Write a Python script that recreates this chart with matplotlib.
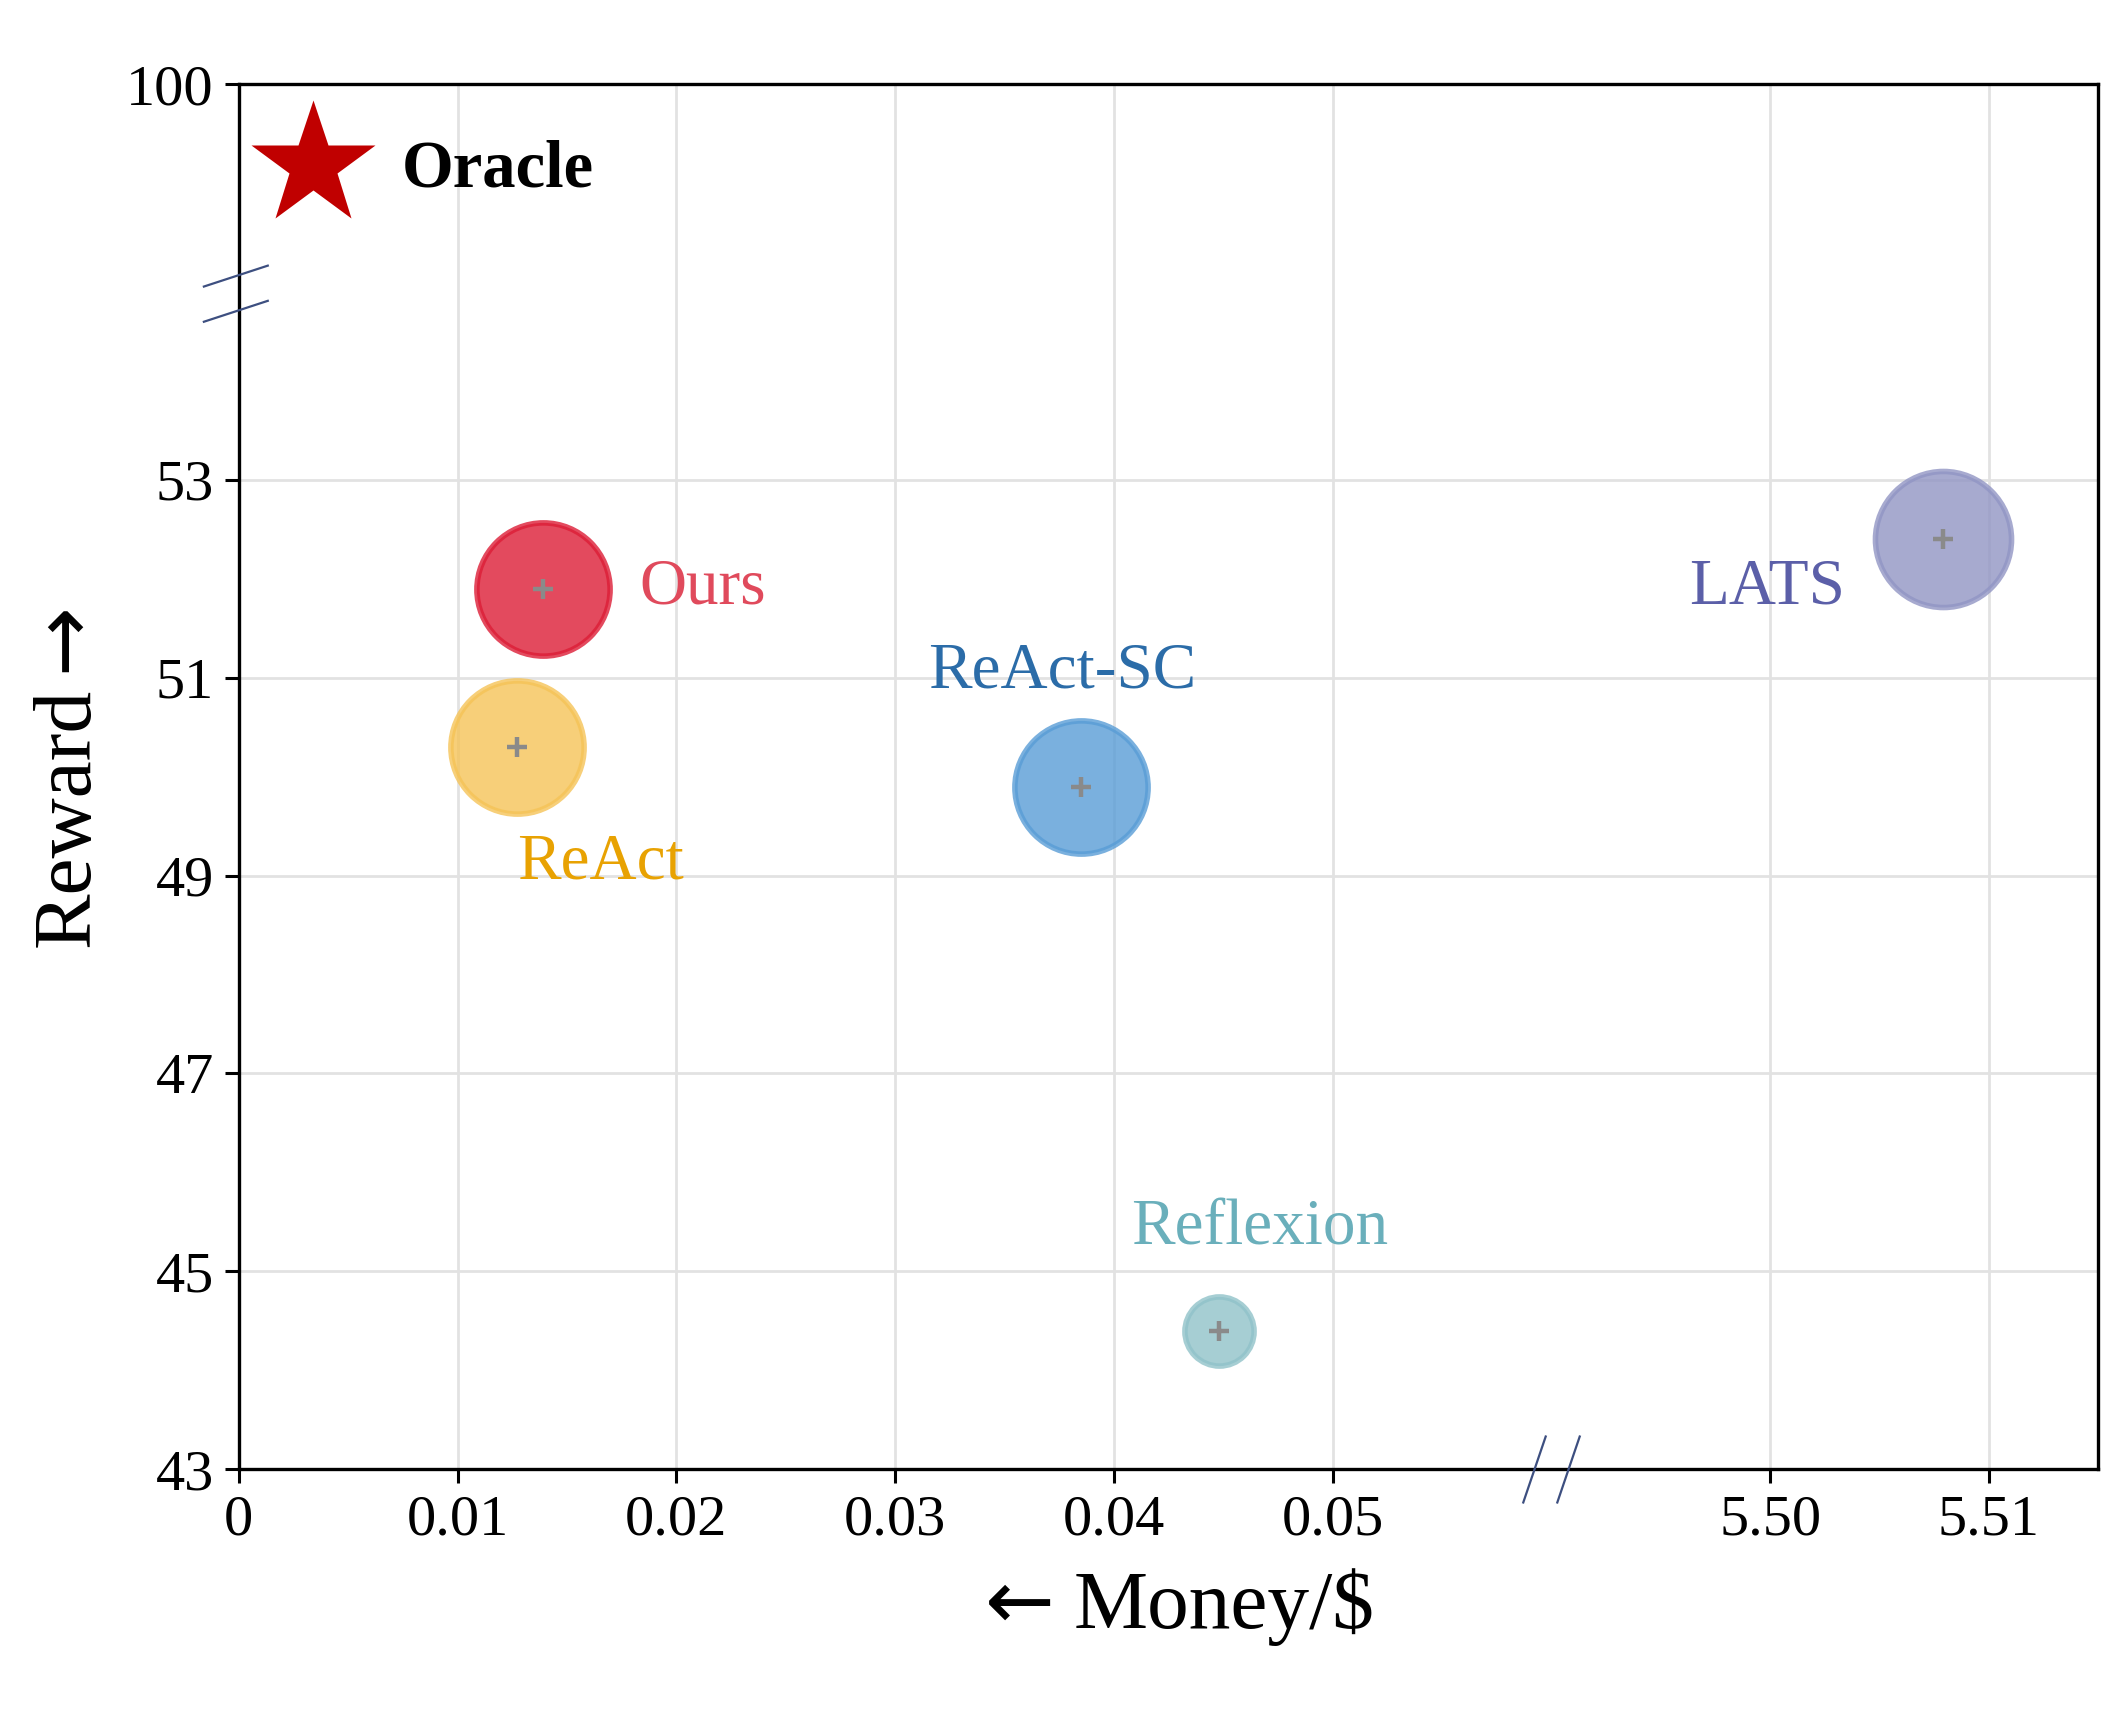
import numpy as np
import matplotlib
matplotlib.use("Agg")
import matplotlib.pyplot as plt
from matplotlib.path import Path

plt.rcParams['font.family'] = ['Liberation Serif', 'DejaVu Serif']

# data
methods = ['Ours', 'ReAct', 'ReAct-SC', 'Reflexion', 'LATS']
money = [0.0139, 0.0127, 0.0385, 0.0448, 5.5079]
reward = [51.9, 50.3, 49.9, 44.4, 52.4]
sizes = [2300, 2300, 2300, 620, 2400]
fill_colors = ['#dc1d36', '#f5c357', '#599dd6', '#90c2c9', '#9195c4']
text_colors = ['#e04a5c', '#e8a202', '#2b6ca8', '#6aafbb', '#5b5fa8']
# label anchor (left, baseline) in data units
label_x = [0.0183, 0.0127, 0.0315, 0.0408, 5.4963]
label_y = [51.75, 48.97, 50.90, 45.27, 51.75]

oracle_money = 0.0034
oracle_reward = 99.18

xticks = [0, 0.01, 0.02, 0.03, 0.04, 0.05, 5.50, 5.51]
xticklabels = ['0', '0.01', '0.02', '0.03', '0.04', '0.05', '5.50', '5.51']
yticks = [43, 45, 47, 49, 51, 53, 100]

# broken axes: squeeze the empty gaps away
x_break, y_break = 0.06, 54.9
XP = [-1, 0.06, 5.49, 7.0]
XU = [-1, 0.06, 0.060001, 1.570001]
YP = [0, 54.9, 97.9, 200]
YU = [0, 54.9, 54.9001, 157.0001]


def fwd_x(x):
    return np.interp(x, XP, XU)


def inv_x(u):
    return np.interp(u, XU, XP)


def fwd_y(y):
    return np.interp(y, YP, YU)


def inv_y(u):
    return np.interp(u, YU, YP)


fig = plt.figure(figsize=(10.64, 8.56), dpi=200)
ax = fig.add_axes([0.1122, 0.1418, 0.8738, 0.8091])
ax.set_xscale('function', functions=(fwd_x, inv_x))
ax.set_yscale('function', functions=(fwd_y, inv_y))
ax.set_xlim(0, 5.515)
ax.set_ylim(43, 100)

ax.set_axisbelow(True)
ax.grid(True, color='#e2e2e2', linewidth=1.0)

for i in range(len(methods)):
    ax.scatter(money[i], reward[i], s=sizes[i], color=fill_colors[i],
               alpha=0.8, linewidths=2, zorder=3)
    ax.scatter(money[i], reward[i], s=50, marker='+', color='#8a8a8a',
               linewidths=1.6, zorder=4)
    ax.text(label_x[i], label_y[i], methods[i], color=text_colors[i],
            fontsize=23.5, ha='left', va='baseline', zorder=5)

ax.plot([oracle_money], [oracle_reward], marker='*', ms=47, color='#c00000',
        mec='none', ls='none', zorder=5)
ax.text(0.00745, 98.96, 'Oracle', fontsize=24, fontweight='bold',
        ha='left', va='baseline', zorder=5)

# break marks
ybreak_mark = Path([(-1, -0.807), (0.8, -0.218), (-1, 0.153), (0.8, 0.742)],
                   [Path.MOVETO, Path.LINETO, Path.MOVETO, Path.LINETO])
xbreak_mark = Path([(-0.84, -1), (-0.16, 1), (0.16, -1), (0.84, 1)],
                   [Path.MOVETO, Path.LINETO, Path.MOVETO, Path.LINETO])
ax.plot([0], [y_break], marker=ybreak_mark, ms=26.4, mew=0.8, mfc='none',
        color='#3d4f80', ls='none', clip_on=False, zorder=6)
ax.plot([x_break], [43], marker=xbreak_mark, ms=24.5, mew=0.8, mfc='none',
        color='#3d4f80', ls='none', clip_on=False, zorder=6)

ax.set_xticks(xticks)
ax.set_xticklabels(xticklabels)
ax.set_yticks(yticks)
ax.set_yticklabels([str(t) for t in yticks])
ax.minorticks_off()
ax.tick_params(axis='both', labelsize=21, length=5, width=1.1, pad=4)
for sp in ax.spines.values():
    sp.set_linewidth(1.2)

# axis labels, arrows taken from DejaVu Sans for a full-size glyph
fig.text(0.5045, 0.0488, 'Money/\\$', fontsize=30, ha='left', va='baseline')
fig.text(0.4955, 0.0488, '\u2190', fontsize=30, family='DejaVu Sans',
         ha='right', va='baseline')
fig.text(0.0415, 0.4467, 'Reward', fontsize=30, rotation=90,
         rotation_mode='anchor', ha='left', va='baseline')
fig.text(0.0415, 0.6076, '\u2192', fontsize=30, family='DejaVu Sans',
         rotation=90, rotation_mode='anchor', ha='left', va='baseline')

fig.savefig('out.png', dpi=200)
